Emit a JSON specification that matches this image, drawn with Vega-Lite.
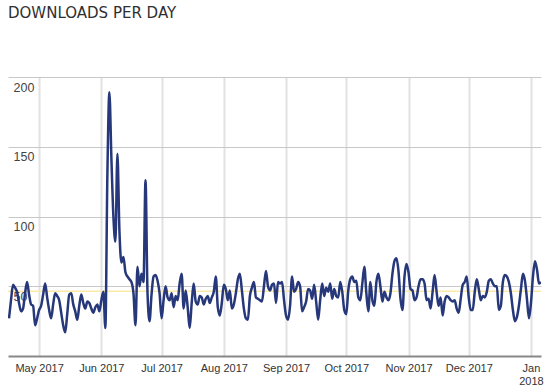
{
  "$schema": "https://vega.github.io/schema/vega-lite/v6.json",
  "width": 533,
  "height": 279,
  "autosize": "none",
  "padding": {"left": 8, "top": 77, "right": 12, "bottom": 35},
  "background": "white",
  "title": {"text": "DOWNLOADS PER DAY", "anchor": "start", "frame": "group", "font": "DejaVu Sans", "fontSize": 15, "fontWeight": "normal", "color": "#2f2f2f", "baseline": "alphabetic", "offset": 44},
  "config": {"view": {"stroke": null}},
  "datasets": {
    "d": [
      {"date": "2017/04/16", "v": 27}, {"date": "2017/04/17", "v": 40}, {"date": "2017/04/18", "v": 51}, {"date": "2017/04/19", "v": 49}, {"date": "2017/04/20", "v": 46}, {"date": "2017/04/21", "v": 38}, {"date": "2017/04/22", "v": 32}, {"date": "2017/04/23", "v": 34}, {"date": "2017/04/24", "v": 45}, {"date": "2017/04/25", "v": 53}, {"date": "2017/04/26", "v": 44}, {"date": "2017/04/27", "v": 37}, {"date": "2017/04/28", "v": 36}, {"date": "2017/04/29", "v": 22}, {"date": "2017/04/30", "v": 27},
      {"date": "2017/05/01", "v": 33}, {"date": "2017/05/02", "v": 36}, {"date": "2017/05/03", "v": 44}, {"date": "2017/05/04", "v": 52}, {"date": "2017/05/05", "v": 42}, {"date": "2017/05/06", "v": 33}, {"date": "2017/05/07", "v": 27}, {"date": "2017/05/08", "v": 37}, {"date": "2017/05/09", "v": 45}, {"date": "2017/05/10", "v": 43}, {"date": "2017/05/11", "v": 40}, {"date": "2017/05/12", "v": 31}, {"date": "2017/05/13", "v": 22}, {"date": "2017/05/14", "v": 17}, {"date": "2017/05/15", "v": 30}, {"date": "2017/05/16", "v": 44}, {"date": "2017/05/17", "v": 45}, {"date": "2017/05/18", "v": 37}, {"date": "2017/05/19", "v": 32}, {"date": "2017/05/20", "v": 26}, {"date": "2017/05/21", "v": 36}, {"date": "2017/05/22", "v": 44}, {"date": "2017/05/23", "v": 38}, {"date": "2017/05/24", "v": 34}, {"date": "2017/05/25", "v": 39}, {"date": "2017/05/26", "v": 38}, {"date": "2017/05/27", "v": 34}, {"date": "2017/05/28", "v": 31}, {"date": "2017/05/29", "v": 35}, {"date": "2017/05/30", "v": 37}, {"date": "2017/05/31", "v": 32},
      {"date": "2017/06/01", "v": 40}, {"date": "2017/06/02", "v": 46}, {"date": "2017/06/03", "v": 20}, {"date": "2017/06/04", "v": 130}, {"date": "2017/06/05", "v": 189}, {"date": "2017/06/06", "v": 142}, {"date": "2017/06/07", "v": 100}, {"date": "2017/06/08", "v": 82}, {"date": "2017/06/09", "v": 145}, {"date": "2017/06/10", "v": 90}, {"date": "2017/06/11", "v": 67}, {"date": "2017/06/12", "v": 71}, {"date": "2017/06/13", "v": 60}, {"date": "2017/06/14", "v": 57}, {"date": "2017/06/15", "v": 55}, {"date": "2017/06/16", "v": 53}, {"date": "2017/06/17", "v": 45}, {"date": "2017/06/18", "v": 22}, {"date": "2017/06/19", "v": 64}, {"date": "2017/06/20", "v": 50}, {"date": "2017/06/21", "v": 59}, {"date": "2017/06/22", "v": 53}, {"date": "2017/06/23", "v": 126}, {"date": "2017/06/24", "v": 45}, {"date": "2017/06/25", "v": 25}, {"date": "2017/06/26", "v": 44}, {"date": "2017/06/27", "v": 57}, {"date": "2017/06/28", "v": 58}, {"date": "2017/06/29", "v": 54}, {"date": "2017/06/30", "v": 45},
      {"date": "2017/07/01", "v": 27}, {"date": "2017/07/02", "v": 40}, {"date": "2017/07/03", "v": 50}, {"date": "2017/07/04", "v": 42}, {"date": "2017/07/05", "v": 40}, {"date": "2017/07/06", "v": 45}, {"date": "2017/07/07", "v": 35}, {"date": "2017/07/08", "v": 43}, {"date": "2017/07/09", "v": 40}, {"date": "2017/07/10", "v": 52}, {"date": "2017/07/11", "v": 59}, {"date": "2017/07/12", "v": 34}, {"date": "2017/07/13", "v": 47}, {"date": "2017/07/14", "v": 35}, {"date": "2017/07/15", "v": 20}, {"date": "2017/07/16", "v": 38}, {"date": "2017/07/17", "v": 52}, {"date": "2017/07/18", "v": 39}, {"date": "2017/07/19", "v": 37}, {"date": "2017/07/20", "v": 43}, {"date": "2017/07/21", "v": 42}, {"date": "2017/07/22", "v": 37}, {"date": "2017/07/23", "v": 41}, {"date": "2017/07/24", "v": 43}, {"date": "2017/07/25", "v": 38}, {"date": "2017/07/26", "v": 42}, {"date": "2017/07/27", "v": 46}, {"date": "2017/07/28", "v": 57}, {"date": "2017/07/29", "v": 35}, {"date": "2017/07/30", "v": 29}, {"date": "2017/07/31", "v": 38},
      {"date": "2017/08/01", "v": 51}, {"date": "2017/08/02", "v": 48}, {"date": "2017/08/03", "v": 40}, {"date": "2017/08/04", "v": 47}, {"date": "2017/08/05", "v": 34}, {"date": "2017/08/06", "v": 37}, {"date": "2017/08/07", "v": 45}, {"date": "2017/08/08", "v": 55}, {"date": "2017/08/09", "v": 59}, {"date": "2017/08/10", "v": 47}, {"date": "2017/08/11", "v": 34}, {"date": "2017/08/12", "v": 27}, {"date": "2017/08/13", "v": 26}, {"date": "2017/08/14", "v": 43}, {"date": "2017/08/15", "v": 49}, {"date": "2017/08/16", "v": 53}, {"date": "2017/08/17", "v": 42}, {"date": "2017/08/18", "v": 41}, {"date": "2017/08/19", "v": 40}, {"date": "2017/08/20", "v": 39}, {"date": "2017/08/21", "v": 50}, {"date": "2017/08/22", "v": 61}, {"date": "2017/08/23", "v": 50}, {"date": "2017/08/24", "v": 47}, {"date": "2017/08/25", "v": 51}, {"date": "2017/08/26", "v": 52}, {"date": "2017/08/27", "v": 38}, {"date": "2017/08/28", "v": 53}, {"date": "2017/08/29", "v": 52}, {"date": "2017/08/30", "v": 53}, {"date": "2017/08/31", "v": 40},
      {"date": "2017/09/01", "v": 29}, {"date": "2017/09/02", "v": 26}, {"date": "2017/09/03", "v": 36}, {"date": "2017/09/04", "v": 57}, {"date": "2017/09/05", "v": 46}, {"date": "2017/09/06", "v": 48}, {"date": "2017/09/07", "v": 53}, {"date": "2017/09/08", "v": 50}, {"date": "2017/09/09", "v": 32}, {"date": "2017/09/10", "v": 35}, {"date": "2017/09/11", "v": 39}, {"date": "2017/09/12", "v": 48}, {"date": "2017/09/13", "v": 47}, {"date": "2017/09/14", "v": 41}, {"date": "2017/09/15", "v": 51}, {"date": "2017/09/16", "v": 39}, {"date": "2017/09/17", "v": 26}, {"date": "2017/09/18", "v": 40}, {"date": "2017/09/19", "v": 52}, {"date": "2017/09/20", "v": 43}, {"date": "2017/09/21", "v": 49}, {"date": "2017/09/22", "v": 46}, {"date": "2017/09/23", "v": 52}, {"date": "2017/09/24", "v": 41}, {"date": "2017/09/25", "v": 48}, {"date": "2017/09/26", "v": 43}, {"date": "2017/09/27", "v": 42}, {"date": "2017/09/28", "v": 53}, {"date": "2017/09/29", "v": 46}, {"date": "2017/09/30", "v": 33},
      {"date": "2017/10/01", "v": 30}, {"date": "2017/10/02", "v": 47}, {"date": "2017/10/03", "v": 55}, {"date": "2017/10/04", "v": 57}, {"date": "2017/10/05", "v": 53}, {"date": "2017/10/06", "v": 54}, {"date": "2017/10/07", "v": 42}, {"date": "2017/10/08", "v": 40}, {"date": "2017/10/09", "v": 52}, {"date": "2017/10/10", "v": 64}, {"date": "2017/10/11", "v": 45}, {"date": "2017/10/12", "v": 32}, {"date": "2017/10/13", "v": 53}, {"date": "2017/10/14", "v": 40}, {"date": "2017/10/15", "v": 36}, {"date": "2017/10/16", "v": 53}, {"date": "2017/10/17", "v": 59}, {"date": "2017/10/18", "v": 50}, {"date": "2017/10/19", "v": 39}, {"date": "2017/10/20", "v": 46}, {"date": "2017/10/21", "v": 42}, {"date": "2017/10/22", "v": 40}, {"date": "2017/10/23", "v": 45}, {"date": "2017/10/24", "v": 59}, {"date": "2017/10/25", "v": 68}, {"date": "2017/10/26", "v": 70}, {"date": "2017/10/27", "v": 61}, {"date": "2017/10/28", "v": 41}, {"date": "2017/10/29", "v": 33}, {"date": "2017/10/30", "v": 57}, {"date": "2017/10/31", "v": 66},
      {"date": "2017/11/01", "v": 60}, {"date": "2017/11/02", "v": 48}, {"date": "2017/11/03", "v": 47}, {"date": "2017/11/04", "v": 40}, {"date": "2017/11/05", "v": 42}, {"date": "2017/11/06", "v": 50}, {"date": "2017/11/07", "v": 55}, {"date": "2017/11/08", "v": 55}, {"date": "2017/11/09", "v": 52}, {"date": "2017/11/10", "v": 40}, {"date": "2017/11/11", "v": 41}, {"date": "2017/11/12", "v": 34}, {"date": "2017/11/13", "v": 46}, {"date": "2017/11/14", "v": 58}, {"date": "2017/11/15", "v": 46}, {"date": "2017/11/16", "v": 36}, {"date": "2017/11/17", "v": 42}, {"date": "2017/11/18", "v": 29}, {"date": "2017/11/19", "v": 39}, {"date": "2017/11/20", "v": 43}, {"date": "2017/11/21", "v": 42}, {"date": "2017/11/22", "v": 40}, {"date": "2017/11/23", "v": 39}, {"date": "2017/11/24", "v": 40}, {"date": "2017/11/25", "v": 34}, {"date": "2017/11/26", "v": 31}, {"date": "2017/11/27", "v": 41}, {"date": "2017/11/28", "v": 51}, {"date": "2017/11/29", "v": 53}, {"date": "2017/11/30", "v": 57},
      {"date": "2017/12/01", "v": 42}, {"date": "2017/12/02", "v": 33}, {"date": "2017/12/03", "v": 33}, {"date": "2017/12/04", "v": 46}, {"date": "2017/12/05", "v": 55}, {"date": "2017/12/06", "v": 48}, {"date": "2017/12/07", "v": 40}, {"date": "2017/12/08", "v": 43}, {"date": "2017/12/09", "v": 42}, {"date": "2017/12/10", "v": 46}, {"date": "2017/12/11", "v": 54}, {"date": "2017/12/12", "v": 55}, {"date": "2017/12/13", "v": 52}, {"date": "2017/12/14", "v": 50}, {"date": "2017/12/15", "v": 50}, {"date": "2017/12/16", "v": 33}, {"date": "2017/12/17", "v": 36}, {"date": "2017/12/18", "v": 53}, {"date": "2017/12/19", "v": 58}, {"date": "2017/12/20", "v": 57}, {"date": "2017/12/21", "v": 53}, {"date": "2017/12/22", "v": 45}, {"date": "2017/12/23", "v": 33}, {"date": "2017/12/24", "v": 25}, {"date": "2017/12/25", "v": 28}, {"date": "2017/12/26", "v": 36}, {"date": "2017/12/27", "v": 48}, {"date": "2017/12/28", "v": 59}, {"date": "2017/12/29", "v": 54}, {"date": "2017/12/30", "v": 41}, {"date": "2017/12/31", "v": 27},
      {"date": "2018/01/01", "v": 38}, {"date": "2018/01/02", "v": 57}, {"date": "2018/01/03", "v": 68}, {"date": "2018/01/04", "v": 62}, {"date": "2018/01/05", "v": 52}, {"date": "2018/01/06", "v": 53}
    ],
    "avg": [{"mean": 46.4}]
  },
  "layer": [
    {
      "data": {"name": "avg"},
      "mark": {"type": "rule", "color": "#fbe9a8", "strokeWidth": 1.5},
      "encoding": {"y": {"field": "mean", "type": "quantitative"}}
    },
    {
      "data": {"name": "d"},
      "mark": {"type": "line", "interpolate": "monotone", "color": "#26377a", "strokeWidth": 2.5, "clip": true},
      "encoding": {
        "x": {
          "field": "date", "type": "temporal",
          "scale": {"domain": [{"year": 2017, "month": 4, "date": 15, "hours": 12}, {"year": 2018, "month": 1, "date": 6}]},
          "axis": {
            "title": null,
            "tickCount": {"interval": "month", "step": 1},
            "labelExpr": "month(datum.value)==0 ? [timeFormat(datum.value,'%b'), timeFormat(datum.value,'%Y')] : timeFormat(datum.value,'%b %Y')",
            "labelFlush": false, "labelOverlap": false,
            "labelFont": "Liberation Sans", "labelFontSize": 11, "labelColor": "#333333", "labelPadding": 6, "labelLineHeight": 13,
            "ticks": false, "tickSize": 0,
            "domainColor": "#888888", "domainWidth": 2,
            "grid": true, "gridColor": "#e2e2e2", "gridWidth": 2
          }
        },
        "y": {
          "field": "v", "type": "quantitative",
          "scale": {"domain": [0, 200], "nice": false},
          "axis": {
            "title": null, "values": [50, 100, 150, 200],
            "domain": false, "ticks": false, "tickSize": 0,
            "labelFlush": false, "labelOverlap": false,
            "labelAlign": "left", "labelBaseline": "top", "labelPadding": -5, "labelOffset": 4,
            "labelFont": "Liberation Sans", "labelFontSize": 12.5, "labelColor": "#444444",
            "grid": true, "gridColor": "#c8c8c8", "gridWidth": 1
          }
        }
      }
    }
  ]
}
